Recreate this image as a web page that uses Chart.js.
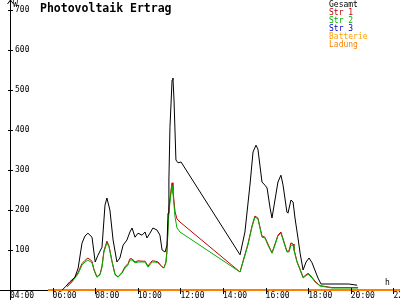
<!DOCTYPE html>
<html><head><meta charset="utf-8">
<script src="https://cdn.jsdelivr.net/npm/chart.js@4/dist/chart.umd.min.js"></script>
<style>html,body{margin:0;padding:0;background:#fff}canvas{display:block}</style>
</head><body>
<canvas id="c" width="400" height="300"></canvas>
<script>
const chartTitle = 'Photovoltaik Ertrag';
const seriesNames = ['Gesamt', 'Str 1', 'Str 2', 'Str 3', 'Batterie', 'Ladung'];
const seriesColors = ['#000000', '#c00000', '#00b000', '#0000d0', '#ffa000', '#ff8000'];

const gesamtTimes = [6.45,6.6,6.8,7.05,7.2,7.38,7.52,7.66,7.85,8.0,8.13,8.32,8.46,8.55,8.69,8.84,9.02,9.16,9.31,9.49,9.63,9.73,9.87,10.01,10.2,10.34,10.43,10.57,10.71,10.9,11.04,11.14,11.28,11.37,11.42,11.46,11.51,11.61,11.65,11.7,11.79,11.89,12.03,14.8,15.03,15.27,15.41,15.55,15.64,15.83,15.97,16.07,16.21,16.3,16.44,16.58,16.72,16.82,17.0,17.05,17.19,17.29,17.38,17.52,17.62,17.76,17.9,18.04,18.18,18.46,18.6,19.9,20.3];
const gesamtValues = [0,8,20,32,55,117,135,142,132,70,87,107,212,230,200,125,70,80,112,125,145,155,132,142,137,145,130,142,155,150,137,100,95,112,192,275,407,525,530,475,325,318,320,88,145,265,345,362,352,270,262,255,205,180,225,270,287,262,195,192,225,220,180,130,92,50,70,80,68,30,15,15,12];

const strTimes = [6.68,6.91,7.19,7.38,7.52,7.66,7.85,7.94,8.08,8.23,8.32,8.41,8.55,8.65,8.79,8.93,9.07,9.26,9.4,9.54,9.63,9.73,9.87,10.01,10.2,10.34,10.48,10.67,10.81,10.95,11.14,11.23,11.32,11.37,11.46,11.56,11.61,11.65,11.75,11.84,11.98,14.8,14.94,15.17,15.36,15.5,15.64,15.83,15.97,16.11,16.3,16.44,16.58,16.72,16.82,17.0,17.1,17.19,17.29,17.33,17.47,17.62,17.76,17.95,17.99,18.18,18.32,18.55,19.12,20.34];
const str1Values = [8,22,43,66,74,80,72,52,33,40,60,98,122,110,72,40,33,44,58,66,78,78,70,73,72,72,60,73,72,70,58,56,70,100,205,250,268,250,195,178,170,45,72,115,160,185,180,135,132,115,93,115,137,145,128,97,98,118,115,103,72,52,32,40,42,32,22,11,6,6];
const str2Values = [8,20,40,62,70,75,68,50,32,38,57,95,118,108,70,38,32,42,55,62,75,75,68,70,70,70,57,70,70,68,57,55,68,95,195,242,262,242,182,155,145,45,70,112,157,182,178,132,130,112,92,112,135,142,125,95,95,112,112,100,70,50,30,38,40,30,20,10,5,5];
const str3Values = [];
const batterieValues = [];
const ladungTimes = [5.78, 22.4];
const ladungValues = [0, 0];

const xTickValues = [4,6,8,10,12,14,16,18,20,22];
const xTickLabels = ['04:00','06:00','08:00','10:00','12:00','14:00','16:00','18:00','20:00','22:00'];
const yTickValues = [100,200,300,400,500,600,700];

function pts(times, values) { return values.map((v, i) => ({x: times[i], y: v})); }

const FONT = 'DejaVu Sans Mono';

const series = [
  {data: pts(gesamtTimes, gesamtValues), order: 0, width: 1},
  {data: pts(strTimes, str1Values), order: 2, width: 1},
  {data: pts(strTimes, str2Values), order: 1, width: 1},
  {data: pts([], str3Values), order: 3, width: 1},
  {data: pts([], batterieValues), order: 4, width: 1},
  {data: pts(ladungTimes, ladungValues), order: 5, width: 2}
];

const decor = {
  id: 'decor',
  afterDraw(chart) {
    const ctx = chart.ctx, xs = chart.scales.x, ys = chart.scales.y;
    const L = chart.chartArea.left, B = chart.chartArea.bottom;
    ctx.save();
    ctx.strokeStyle = '#000'; ctx.lineWidth = 1;
    ctx.beginPath();
    ctx.moveTo(L + 0.5, 0); ctx.lineTo(L + 0.5, 300);
    ctx.moveTo(0, B + 0.5); ctx.lineTo(L, B + 0.5);
    ctx.moveTo(L + 0.5, 0); ctx.lineTo(L - 2.5, 4);
    ctx.moveTo(L + 0.5, 0); ctx.lineTo(L + 3.5, 4);
    yTickValues.forEach(v => { const y = Math.round(ys.getPixelForValue(v)) + 0.5; ctx.moveTo(L - 2, y); ctx.lineTo(L + 3, y); });
    xTickValues.forEach(v => { const x = Math.round(xs.getPixelForValue(v)) + 0.5; ctx.moveTo(x, B - 2); ctx.lineTo(x, B + 4); });
    ctx.stroke();
    ctx.fillStyle = '#000';
    ctx.font = '8px "' + FONT + '"';
    ctx.textBaseline = 'alphabetic'; ctx.textAlign = 'left';
    ctx.fillText('W', 13, 7);
    ctx.fillText('h', 385, 285);
    ctx.font = 'bold 11.5px "' + FONT + '"';
    ctx.fillText(chartTitle, 40, 12);
    ctx.font = '8px "' + FONT + '"';
    seriesNames.forEach((n, i) => { ctx.fillStyle = seriesColors[i]; ctx.fillText(n, 329, 7 + 8 * i); });
    ctx.restore();
  }
};

new Chart(document.getElementById('c'), {
  type: 'line',
  data: {
    datasets: series.map((s, i) => ({
      label: seriesNames[i], data: s.data, order: s.order,
      borderColor: seriesColors[i], backgroundColor: seriesColors[i],
      borderWidth: s.width, pointRadius: 0, tension: 0, fill: false,
      clip: i === 5 ? false : undefined
    }))
  },
  options: {
    responsive: false, animation: false,
    layout: {autoPadding: false, padding: {top: 10, left: 0, right: 0, bottom: 0}},
    plugins: {legend: {display: false}, title: {display: false}, tooltip: {enabled: false}},
    scales: {
      x: {
        type: 'linear', min: 4, max: 22.31,
        afterBuildTicks: s => { s.ticks = xTickValues.map(v => ({value: v})); },
        afterFit: s => { s.height = 10; s.paddingLeft = 0; s.paddingRight = 0; },
        grid: {display: false, drawTicks: false},
        border: {display: true, color: '#000', width: 1},
        ticks: {align: 'start', padding: 2, color: '#000', font: {family: FONT, size: 8, lineHeight: 1}, maxRotation: 0, minRotation: 0, autoSkip: false,
          callback: (v, i) => xTickLabels[i]}
      },
      y: {
        type: 'linear', min: 0, max: 700,
        afterBuildTicks: s => { s.ticks = yTickValues.map(v => ({value: v})); },
        afterFit: s => { s.width = 10; s.paddingTop = 0; s.paddingBottom = 0; },
        grid: {display: false, drawTicks: false},
        border: {display: true, color: '#000', width: 1},
        ticks: {mirror: true, padding: 5, color: '#000', font: {family: FONT, size: 8}, autoSkip: false,
          callback: v => String(v)}
      }
    }
  },
  plugins: [decor]
});
</script>
</body></html>
